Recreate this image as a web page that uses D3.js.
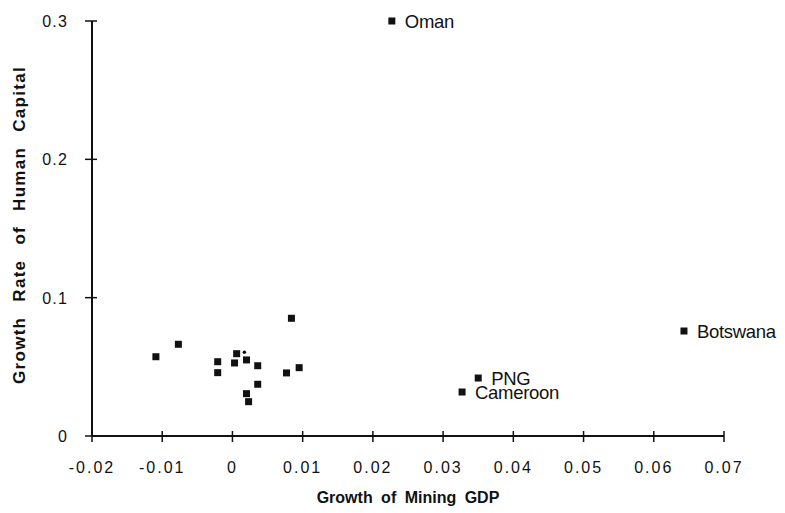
<!DOCTYPE html>
<html><head><meta charset="utf-8">
<script src="https://cdn.jsdelivr.net/npm/d3@7"></script>
<style>body{margin:0;background:#fff}svg{display:block}text{font-family:"Liberation Sans",Arial,sans-serif;fill:#111}</style>
</head><body>
<script>
const xTicks = [-0.02,-0.01,0,0.01,0.02,0.03,0.04,0.05,0.06,0.07];
const yTicks = [0,0.1,0.2,0.3];
const xVals = [0.0227,0.0643,0.0350,0.0327,0.0084,-0.0077,-0.0109,-0.0021,-0.0021,0.0006,0.0003,0.0020,0.0036,0.0036,0.0020,0.0023,0.0077,0.0095];
const yVals = [0.300,0.0759,0.0419,0.0318,0.0851,0.0663,0.0573,0.0537,0.0458,0.0595,0.0528,0.0550,0.0508,0.0374,0.0306,0.0248,0.0456,0.0494];
const names = ["Oman","Botswana","PNG","Cameroon","","","","","","","","","","","","","",""];
const dotX = [0.0017], dotY = [0.0605];

const W=785,H=513;
const svg=d3.select("body").append("svg").attr("width",W).attr("height",H);
const x=d3.scaleLinear().domain([-0.02,0.07]).range([92,724]);
const y=d3.scaleLinear().domain([0,0.3]).range([436,21]);

svg.append("line").attr("x1",x(-0.02)).attr("x2",x(0.07)).attr("y1",y(0)).attr("y2",y(0)).attr("stroke","#111").attr("stroke-width",2);
svg.append("line").attr("x1",x(-0.02)).attr("x2",x(-0.02)).attr("y1",y(0)).attr("y2",y(0.3)).attr("stroke","#111").attr("stroke-width",2);

const fmt=v=>v===0?"0":String(+v.toFixed(2));
svg.selectAll(".xt").data(xTicks).join("line").attr("x1",d=>x(d)).attr("x2",d=>x(d)).attr("y1",y(0)-5).attr("y2",y(0)+6).attr("stroke","#111").attr("stroke-width",1.5);
svg.selectAll(".xl").data(xTicks).join("text").attr("x",d=>x(d)).attr("y",y(0)+37).attr("text-anchor","middle").style("font-size","16px").style("letter-spacing","2px").text(fmt);
svg.selectAll(".yt").data(yTicks).join("line").attr("x1",x(-0.02)-7).attr("x2",x(-0.02)+5).attr("y1",d=>y(d)).attr("y2",d=>y(d)).attr("stroke","#111").attr("stroke-width",1.5);
svg.selectAll(".yl").data(yTicks).join("text").attr("x",x(-0.02)-24).attr("y",d=>y(d)+6).attr("text-anchor","end").style("font-size","16px").style("letter-spacing","1.2px").text(fmt);

svg.append("text").attr("x",408).attr("y",503).attr("text-anchor","middle").style("font-size","16px").style("font-weight","bold").style("word-spacing","4px").text("Growth of Mining GDP");
svg.append("text").attr("transform","translate(25,225) rotate(-90)").attr("text-anchor","middle").style("font-size","17px").style("font-weight","bold").style("word-spacing","9px").style("letter-spacing","1.3px").text("Growth Rate of Human Capital");

const pts=xVals.map((v,i)=>({x:v,y:yVals[i],n:names[i]}));
svg.selectAll(".pt").data(pts).join("rect").attr("x",d=>x(d.x)-3.5).attr("y",d=>y(d.y)-3.5).attr("width",7).attr("height",7).attr("fill","#111");
svg.selectAll(".dt").data(dotX).join("circle").attr("cx",d=>x(d)).attr("cy",(d,i)=>y(dotY[i])).attr("r",1.8).attr("fill","#111");
svg.selectAll(".lb").data(pts.filter(d=>d.n)).join("text").attr("x",d=>x(d.x)+13).attr("y",d=>y(d.y)+7).style("font-size","18.5px").style("letter-spacing","-0.3px").text(d=>d.n);
</script>
</body></html>
